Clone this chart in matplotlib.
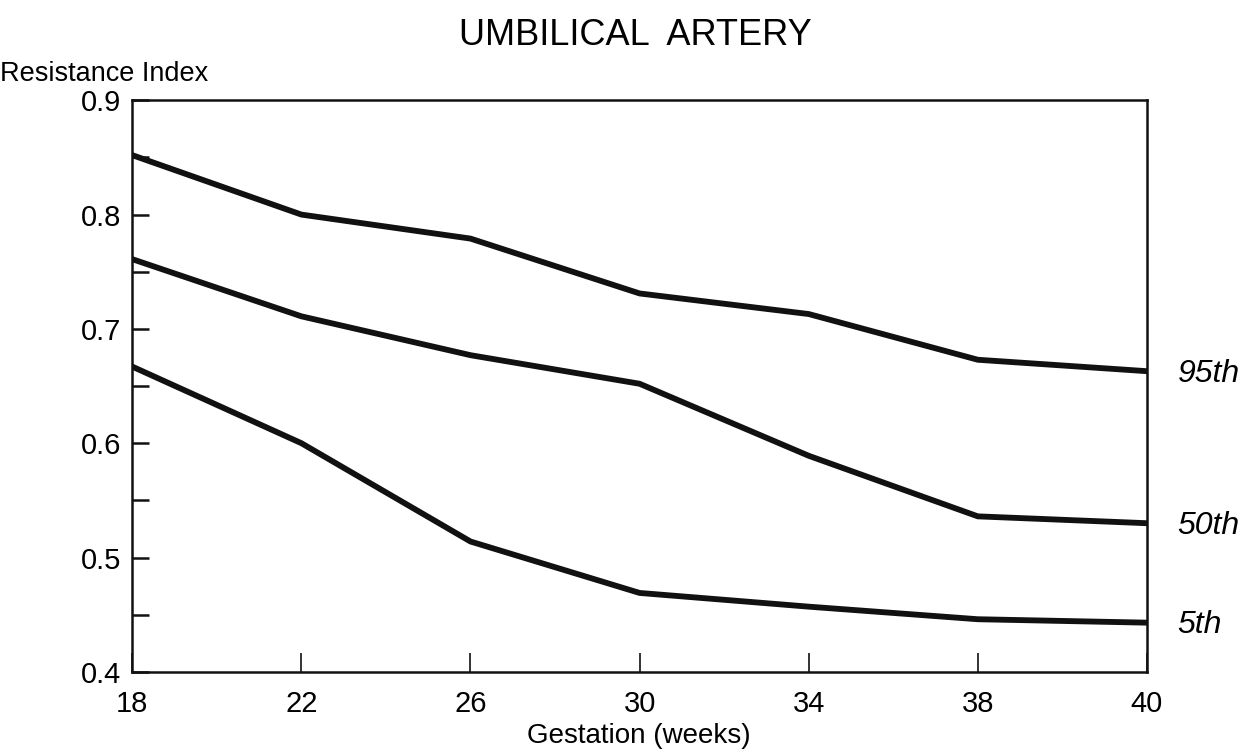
import numpy as np
import matplotlib.pyplot as plt
from matplotlib.ticker import MultipleLocator

plt.rcParams['font.family'] = ['Liberation Sans', 'DejaVu Sans']

# gestation weeks (drawn at equal spacing)
weeks = ["18", "22", "26", "30", "34", "38", "40"]
p95 = [0.852, 0.800, 0.779, 0.731, 0.713, 0.673, 0.663]
p50 = [0.761, 0.711, 0.677, 0.652, 0.589, 0.536, 0.530]
p5 = [0.667, 0.600, 0.514, 0.469, 0.457, 0.446, 0.443]
curve_names = ["95th", "50th", "5th"]

fig = plt.figure(figsize=(12.48, 7.54), dpi=100)
ax = fig.add_axes([0.106, 0.109, 0.813, 0.758])

x = np.arange(len(weeks))
for vals in [p95, p50, p5]:
    ax.plot(x, vals, color="#111111", linewidth=4.2, solid_joinstyle="round")

ax.set_xlim(0, len(weeks) - 1)
ax.set_ylim(0.4, 0.9)
ax.set_xticks(x)
ax.set_xticklabels(weeks)
ax.yaxis.set_major_locator(MultipleLocator(0.1))
ax.yaxis.set_minor_locator(MultipleLocator(0.05))
ax.tick_params(axis="both", which="both", direction="in", labelsize=21, color="#111111")
ax.tick_params(axis="y", which="both", length=12, width=1.8, pad=8)
ax.tick_params(axis="x", length=14, width=1.2, pad=13)
for s in ax.spines.values():
    s.set_linewidth(1.8)
    s.set_color("#111111")

# percentile labels at the right end
for name, vals in zip(curve_names, [p95, p50, p5]):
    ax.annotate(name, xy=(x[-1], vals[-1]), xytext=(22, -2), textcoords="offset points",
                fontsize=23, style="italic", va="center", ha="left", annotation_clip=False)

fig.text(0.509, 0.953, "UMBILICAL  ARTERY", ha="center", va="center", fontsize=26)
fig.text(0.0, 0.902, "Resistance Index", ha="left", va="center", fontsize=19.5)
fig.text(0.512, 0.024, "Gestation (weeks)", ha="center", va="center", fontsize=20)

fig.savefig("out.png", dpi=100)
